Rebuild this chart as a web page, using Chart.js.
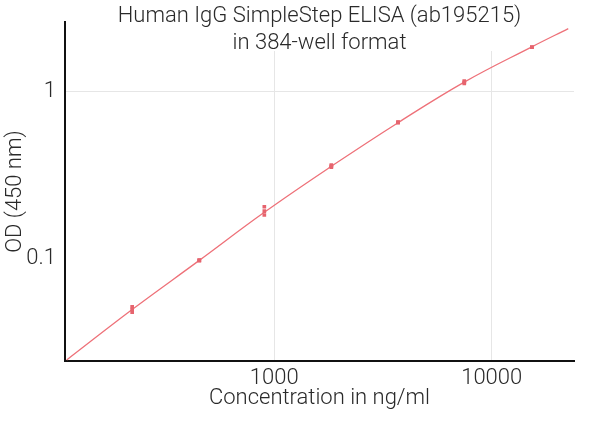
<!DOCTYPE html>
<html>
<head>
<meta charset="utf-8">
<script src="https://cdn.jsdelivr.net/npm/chart.js@4.4.1/dist/chart.umd.min.js"></script>
<style>
  html, body { margin: 0; padding: 0; background: #fff; }
  #wrap { width: 600px; height: 422px; }
</style>
</head>
<body>
<div id="wrap"><canvas id="elisaChart" width="600" height="422"></canvas></div>
<script>
// Chart text
const titleLines = ['Human IgG SimpleStep ELISA (ab195215)', 'in 384-well format'];
const xTitle = 'Concentration in ng/ml';
const yTitle = 'OD (450 nm)';

// Standard points (replicates)
const concentrations = [222, 452, 900, 1830, 3710, 7480, 15300];
const odRepA = [0.0511, 0.0971, 0.204, 0.363, 0.655, 1.163, 1.855];
const odRepB = [0.0492, 0.0971, 0.192, 0.358, 0.655, 1.140, 1.855];
const odRepC = [0.0474, 0.0971, 0.182, 0.353, 0.655, 1.124, 1.855];

// Fitted curve
const fitConc = [111, 222, 452, 900, 1830, 3710, 7480, 15300, 22500];
const fitOD = [0.0245, 0.0492, 0.0971, 0.189, 0.357, 0.653, 1.145, 1.865, 2.40];

// Axes
const xTicks = [1000, 10000];
const yTicks = [0.1, 1];
const yGridAt = [1];
const xRange = [109, 23910];
const yRange = [0.02413, 2.623];

const fontFamily = 'Roboto, "DejaVu Sans", sans-serif';
const fontSize = 22;
const fontWeight = 300;
const textColor = '#2a2a2a';
const curveColor = '#ee7179';
const pointColor = '#e6646e';

const toPoints = (xs, ys) => xs.map((x, i) => ({ x: x, y: ys[i] }));
const axisFont = { family: fontFamily, size: fontSize, weight: fontWeight };

function repDataset(ys) {
  return {
    type: 'scatter',
    data: toPoints(concentrations, ys),
    pointStyle: 'rect',
    pointRadius: 2.6,
    pointBackgroundColor: pointColor,
    pointBorderWidth: 0,
    showLine: false,
    order: 1
  };
}

// title sits inside the top of the plot, on a white band
const titleBand = {
  id: 'titleBand',
  beforeDatasetsDraw(chart) {
    const { ctx, chartArea } = chart;
    ctx.save();
    ctx.fillStyle = '#fff';
    ctx.fillRect(chartArea.left + 2, 0, chartArea.right - chartArea.left, 51);
    ctx.fillStyle = textColor;
    ctx.font = fontWeight + ' ' + fontSize + 'px ' + fontFamily;
    ctx.textAlign = 'center';
    ctx.textBaseline = 'middle';
    const cx = (chartArea.left + chartArea.right) / 2;
    titleLines.forEach((t, i) => ctx.fillText(t, cx, 16 + i * 27));
    ctx.restore();
  }
};

new Chart(document.getElementById('elisaChart'), {
  data: {
    datasets: [
      {
        type: 'line',
        data: toPoints(fitConc, fitOD),
        borderColor: curveColor,
        borderWidth: 1.3,
        pointRadius: 0,
        tension: 0.4,
        fill: false,
        order: 2
      },
      repDataset(odRepA),
      repDataset(odRepB),
      repDataset(odRepC)
    ]
  },
  options: {
    responsive: false,
    animation: false,
    layout: { padding: { top: 22, right: 26, left: 0, bottom: 0 } },
    plugins: {
      legend: { display: false },
      tooltip: { enabled: false },
      title: { display: false }
    },
    scales: {
      x: {
        type: 'logarithmic',
        min: xRange[0],
        max: xRange[1],
        afterBuildTicks: (scale) => { scale.ticks = xTicks.map(v => ({ value: v })); },
        afterFit: (scale) => { scale.height = 61; },
        grid: { color: '#e6e6e6', lineWidth: 1, drawTicks: false },
        border: { color: '#111', width: 2 },
        ticks: {
          color: textColor,
          font: axisFont,
          padding: 4,
          maxRotation: 0,
          autoSkip: false,
          callback: (v) => String(v)
        },
        title: {
          display: true,
          text: xTitle,
          color: textColor,
          font: axisFont,
          padding: { top: 0, bottom: 10 }
        }
      },
      y: {
        type: 'logarithmic',
        min: yRange[0],
        max: yRange[1],
        afterBuildTicks: (scale) => { scale.ticks = yTicks.map(v => ({ value: v })); },
        afterFit: (scale) => { scale.width = 65; },
        grid: {
          color: (c) => (c.tick && yGridAt.includes(c.tick.value)) ? '#e6e6e6' : 'rgba(0,0,0,0)',
          lineWidth: 1,
          drawTicks: false
        },
        border: { color: '#111', width: 2 },
        ticks: {
          color: textColor,
          font: axisFont,
          padding: 9,
          autoSkip: false,
          callback: (v) => String(v)
        },
        title: {
          display: true,
          text: yTitle,
          color: textColor,
          font: axisFont,
          padding: { top: 2, bottom: 4 }
        }
      }
    }
  },
  plugins: [titleBand]
});
</script>
</body>
</html>
